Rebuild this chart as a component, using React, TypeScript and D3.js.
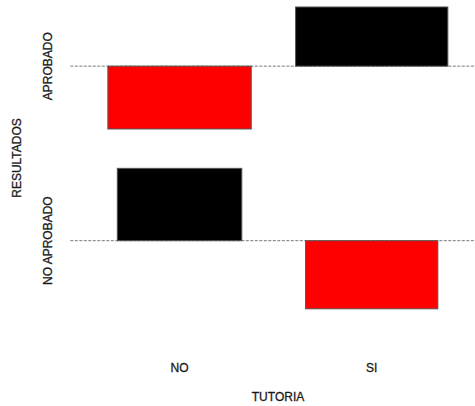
import React from "react";
import * as d3 from "d3";

// Observed contingency table (rows: RESULTADOS, cols: TUTORIA)
const rowLabels = ["APROBADO", "NO APROBADO"];
const colLabels = ["NO", "SI"];
const observed = [
  [18, 39], // APROBADO
  [29, 14], // NO APROBADO
];
const xTitle = "TUTORIA";
const yTitle = "RESULTADOS";

const W = 475;
const H = 406;

export default function App() {
  const nr = rowLabels.length;
  const nc = colLabels.length;
  const rowSums = observed.map((r) => d3.sum(r));
  const colSums = colLabels.map((_, j) => d3.sum(observed, (r) => r[j]));
  const N = d3.sum(rowSums);
  const expected = observed.map((r, i) => r.map((_, j) => (rowSums[i] * colSums[j]) / N));
  const resid = observed.map((r, i) => r.map((o, j) => (o - expected[i][j]) / Math.sqrt(expected[i][j])));
  const sw = expected.map((r) => r.map((e) => Math.sqrt(e)));

  const space = 0.3;
  const xw = colLabels.map((_, j) => d3.max(sw, (r) => r[j]) as number);
  const yTop = resid.map((r) => Math.max(0, d3.max(r) as number));
  const yBot = resid.map((r) => Math.max(0, -(d3.min(r) as number)));
  const yh = yTop.map((t, i) => t + yBot[i]);
  const xDelta = d3.mean(xw)! * space;
  const yDelta = d3.mean(yh)! * space;
  const xlim = d3.sum(xw) + nc * xDelta;
  const ylim = d3.sum(yh) + nr * yDelta;

  const xPos: number[] = [];
  let acc = 0;
  for (let j = 0; j < nc; j++) {
    xPos.push(acc + xDelta / 2 + xw[j] / 2);
    acc += xw[j] + xDelta;
  }
  const yPos: number[] = [];
  let accY = ylim;
  for (let i = 0; i < nr; i++) {
    yPos.push(accY - yDelta / 2 - yTop[i]);
    accY -= yh[i] + yDelta;
  }

  const x = d3.scaleLinear().domain([0, xlim]).range([85.7, 470]);
  const kx = x(1) - x(0);
  const pad = 0.04 * xlim;
  const y = d3.scaleLinear().domain([0, ylim]).range([328.5, -12.7]);

  const font = "'Liberation Sans', Arial, sans-serif";
  const txt = "#1a1a1a";
  const tp = { fontFamily: font, fontSize: 12, fill: txt, stroke: txt, strokeWidth: 0.3 };

  return (
    <svg width={W} height={H} style={{ position: "absolute", left: 0, top: 0, background: "#fff" }}>
      {rowLabels.map((_, i) => (
        <line
          key={"bl" + i}
          x1={x(-pad)}
          x2={x(xlim + pad)}
          y1={y(yPos[i])}
          y2={y(yPos[i])}
          stroke="#777"
          strokeWidth={1}
          strokeDasharray="3 1.5"
        />
      ))}
      {observed.map((r, i) =>
        r.map((_, j) => {
          const res = resid[i][j];
          const w = sw[i][j] * kx;
          const y0 = y(yPos[i]);
          const y1 = y(yPos[i] + res);
          return (
            <rect
              key={i + "-" + j}
              x={x(xPos[j]) - w / 2}
              y={Math.min(y0, y1)}
              width={w}
              height={Math.abs(y1 - y0)}
              fill={res > 0 ? "#000" : "#ff0000"}
              stroke="#555"
              strokeWidth={1}
            />
          );
        })
      )}
      {colLabels.map((c, j) => (
        <text key={c} x={x(xPos[j])} y={372} textAnchor="middle" {...tp}>
          {c}
        </text>
      ))}
      <text x={278} y={401} textAnchor="middle" {...tp}>
        {xTitle}
      </text>
      {rowLabels.map((r, i) => (
        <text key={r} transform={`translate(52,${y(yPos[i])}) rotate(-90)`} textAnchor="middle" {...tp}>
          {r}
        </text>
      ))}
      <text transform={`translate(21,158) rotate(-90)`} textAnchor="middle" {...tp}>
        {yTitle}
      </text>
    </svg>
  );
}
